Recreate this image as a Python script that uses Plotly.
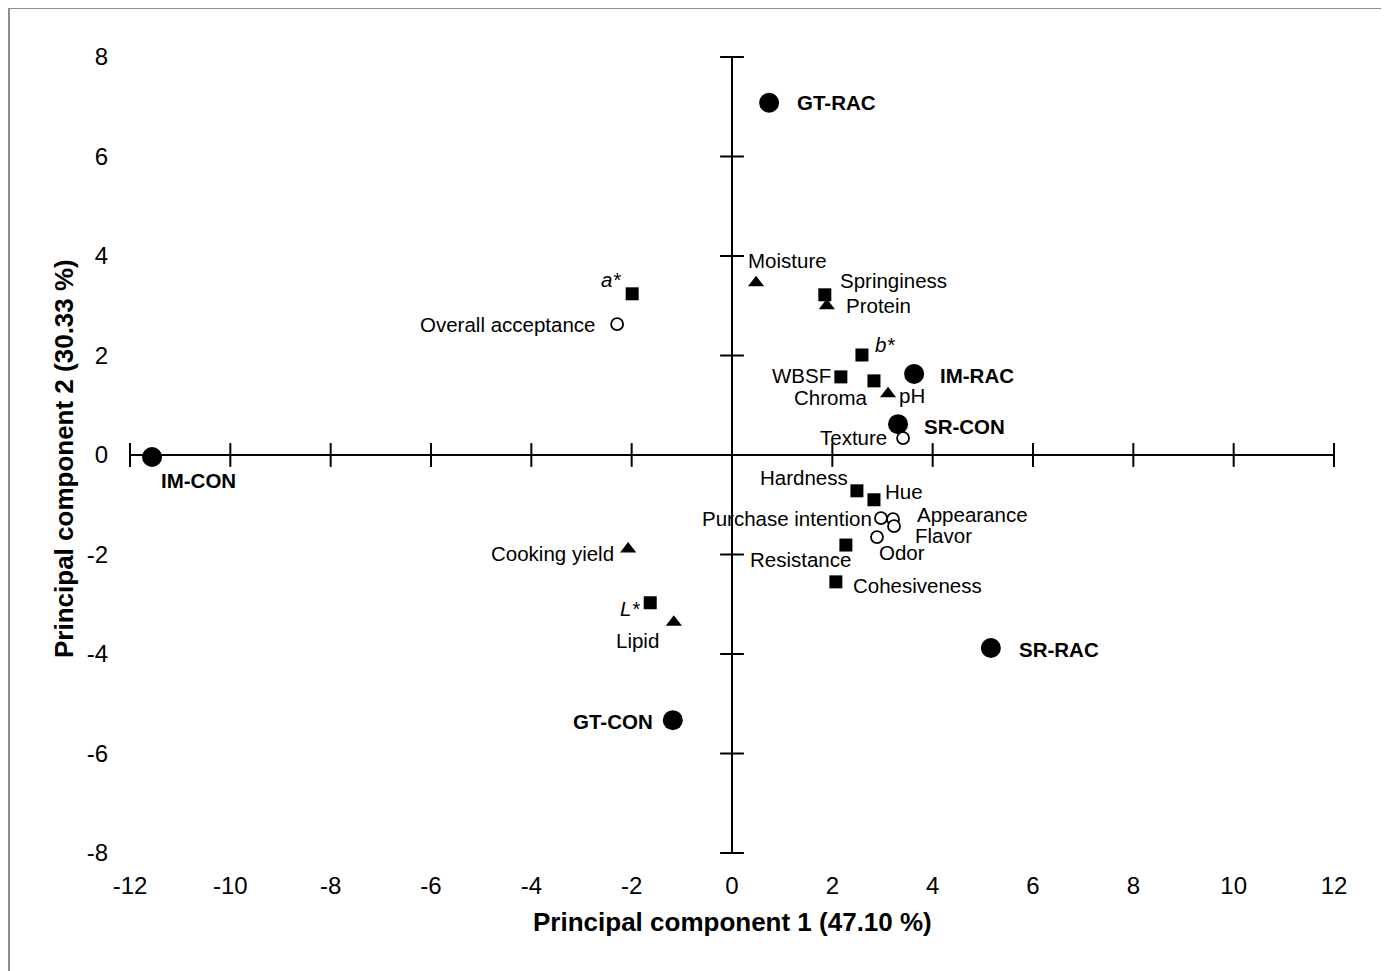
import plotly.graph_objects as go

# ---- data ----
treat_names = ["GT-RAC", "IM-RAC", "SR-CON", "IM-CON", "SR-RAC", "GT-CON"]
treat_pc1 = [0.74, 3.63, 3.31, -11.56, 5.16, -1.18]
treat_pc2 = [7.08, 1.63, 0.62, -0.04, -3.88, -5.33]

sq_names = ["a*", "Springiness", "b*", "WBSF", "Chroma", "Hardness", "Hue",
            "Resistance", "Cohesiveness", "L*"]
sq_pc1 = [-1.99, 1.85, 2.59, 2.17, 2.83, 2.49, 2.83, 2.27, 2.07, -1.63]
sq_pc2 = [3.24, 3.22, 2.01, 1.57, 1.49, -0.72, -0.90, -1.81, -2.55, -2.97]

tri_names = ["Moisture", "Protein", "pH", "Cooking yield", "Lipid"]
tri_pc1 = [0.48, 1.89, 3.11, -2.07, -1.16]
tri_pc2 = [3.46, 3.00, 1.23, -1.89, -3.36]

oc_names = ["Overall acceptance", "Texture", "Purchase intention", "Appearance",
            "Flavor", "Odor"]
oc_pc1 = [-2.29, 3.41, 2.97, 3.21, 3.23, 2.89]
oc_pc2 = [2.63, 0.34, -1.27, -1.29, -1.43, -1.65]

x_ticks = [-12, -10, -8, -6, -4, -2, 0, 2, 4, 6, 8, 10, 12]
y_ticks = [-8, -6, -4, -2, 0, 2, 4, 6, 8]

x_title = "Principal component 1 (47.10 %)"
y_title = "Principal component 2 (30.33 %)"

# ---- label placement (anchor, x shift px, y shift px) ----
label_pos = {
    "GT-RAC": ("left", 27, 0), "IM-RAC": ("left", 25, -2), "SR-CON": ("left", 25, -2),
    "IM-CON": ("left", 8, -24), "SR-RAC": ("left", 27, -1), "GT-CON": ("right", -19, -1),
    "a*": ("right", -10, 14), "Springiness": ("left", 14, 14), "b*": ("left", 12, 11),
    "WBSF": ("right", -9, 1), "Chroma": ("right", -5, -17), "Hardness": ("right", -8, 13),
    "Hue": ("left", 10, 8), "Resistance": ("right", 6, -14), "Cohesiveness": ("left", 16, -4),
    "L*": ("right", -9, -6), "Moisture": ("left", -9, 22), "Protein": ("left", 18, 0),
    "pH": ("left", 10, -2), "Cooking yield": ("right", -13, -4), "Lipid": ("right", -14, -18),
    "Overall acceptance": ("right", -21, 0), "Texture": ("right", -15, 1),
    "Purchase intention": ("right", -8, 0), "Appearance": ("left", 23, 5),
    "Flavor": ("left", 20, -9), "Odor": ("left", 1, -15),
}
italic = {"a*", "b*", "L*"}

FONT = "Arial, Liberation Sans, sans-serif"

# page has an 8px body margin; figure is sized/offset to compensate
W, H = 1381, 963
L, R, T, B = 122, 55, 49, 118

fig = go.Figure()

# crossing tick marks on the axes
fig.add_trace(go.Scatter(
    x=x_ticks, y=[0] * len(x_ticks), mode="markers", cliponaxis=False,
    marker=dict(symbol="line-ns", size=17, line=dict(color="black", width=2)),
    hoverinfo="skip", showlegend=False))
fig.add_trace(go.Scatter(
    x=[0] * len(y_ticks), y=y_ticks, mode="markers", cliponaxis=False,
    marker=dict(symbol="line-ew", size=17, line=dict(color="black", width=2)),
    hoverinfo="skip", showlegend=False))

fig.add_trace(go.Scatter(x=treat_pc1, y=treat_pc2, mode="markers", cliponaxis=False,
                         marker=dict(symbol="circle", size=20, color="black"),
                         showlegend=False, hovertext=treat_names))
fig.add_trace(go.Scatter(x=sq_pc1, y=sq_pc2, mode="markers", cliponaxis=False,
                         marker=dict(symbol="square", size=13, color="black"),
                         showlegend=False, hovertext=sq_names))
fig.add_trace(go.Scatter(x=tri_pc1, y=tri_pc2, mode="markers", cliponaxis=False,
                         marker=dict(symbol="triangle-up", size=14, color="black"),
                         showlegend=False, hovertext=tri_names))
fig.add_trace(go.Scatter(x=oc_pc1, y=oc_pc2, mode="markers", cliponaxis=False,
                         marker=dict(symbol="circle", size=12, color="white",
                                     line=dict(color="black", width=1.8)),
                         showlegend=False, hovertext=oc_names))

annotations = []
def add_labels(names, xs, ys, bold=False):
    for n, x, y in zip(names, xs, ys):
        anc, dx, dy = label_pos[n]
        txt = f"<i>{n}</i>" if n in italic else n
        if bold:
            txt = f"<b>{txt}</b>"
        annotations.append(dict(x=x, y=y, xref="x", yref="y", text=txt, showarrow=False,
                                xanchor=anc, yanchor="middle", xshift=dx, yshift=dy,
                                borderpad=0,
                                font=dict(family=FONT, size=20.5, color="black")))

add_labels(treat_names, treat_pc1, treat_pc2, bold=True)
add_labels(sq_names, sq_pc1, sq_pc2)
add_labels(tri_names, tri_pc1, tri_pc2)
add_labels(oc_names, oc_pc1, oc_pc2)

annotations.append(dict(x=0.5, y=-0.0867, xref="paper", yref="paper", text=f"<b>{x_title}</b>",
                        showarrow=False, xanchor="center", yanchor="middle",
                        font=dict(family=FONT, size=26, color="black")))
annotations.append(dict(x=-0.0548, y=0.495, xref="paper", yref="paper", text=f"<b>{y_title}</b>",
                        showarrow=False, xanchor="center", yanchor="middle", textangle=-90,
                        font=dict(family=FONT, size=26, color="black")))

pw = W - L - R
ph = H - T - B

fig.update_layout(
    width=W, height=H,
    margin=dict(l=L, r=R, t=T, b=B),
    paper_bgcolor="white", plot_bgcolor="white",
    annotations=annotations,
    font=dict(family=FONT, color="black"),
    xaxis=dict(range=[-12, 12], tickvals=x_ticks, ticktext=[str(v) for v in x_ticks],
               showgrid=False, showline=False, zeroline=True, zerolinecolor="black",
               zerolinewidth=2, ticks="outside", ticklen=11, tickcolor="rgba(0,0,0,0)",
               tickfont=dict(family=FONT, size=24, color="black"), fixedrange=True),
    yaxis=dict(range=[-8, 8], tickvals=y_ticks, ticktext=[str(v) for v in y_ticks],
               showgrid=False, showline=False, zeroline=True, zerolinecolor="black",
               zerolinewidth=2, ticks="outside", ticklen=16, tickcolor="rgba(0,0,0,0)",
               tickfont=dict(family=FONT, size=24, color="black"), fixedrange=True),
    shapes=[dict(type="rect", xref="paper", yref="paper",
                 x0=(1 - L) / pw, x1=1.2, y0=-0.3, y1=(T - 0) / ph + 1,
                 line=dict(color="#8c8c8c", width=2), fillcolor="rgba(0,0,0,0)", layer="below")],
)

fig.write_html("out.html")
